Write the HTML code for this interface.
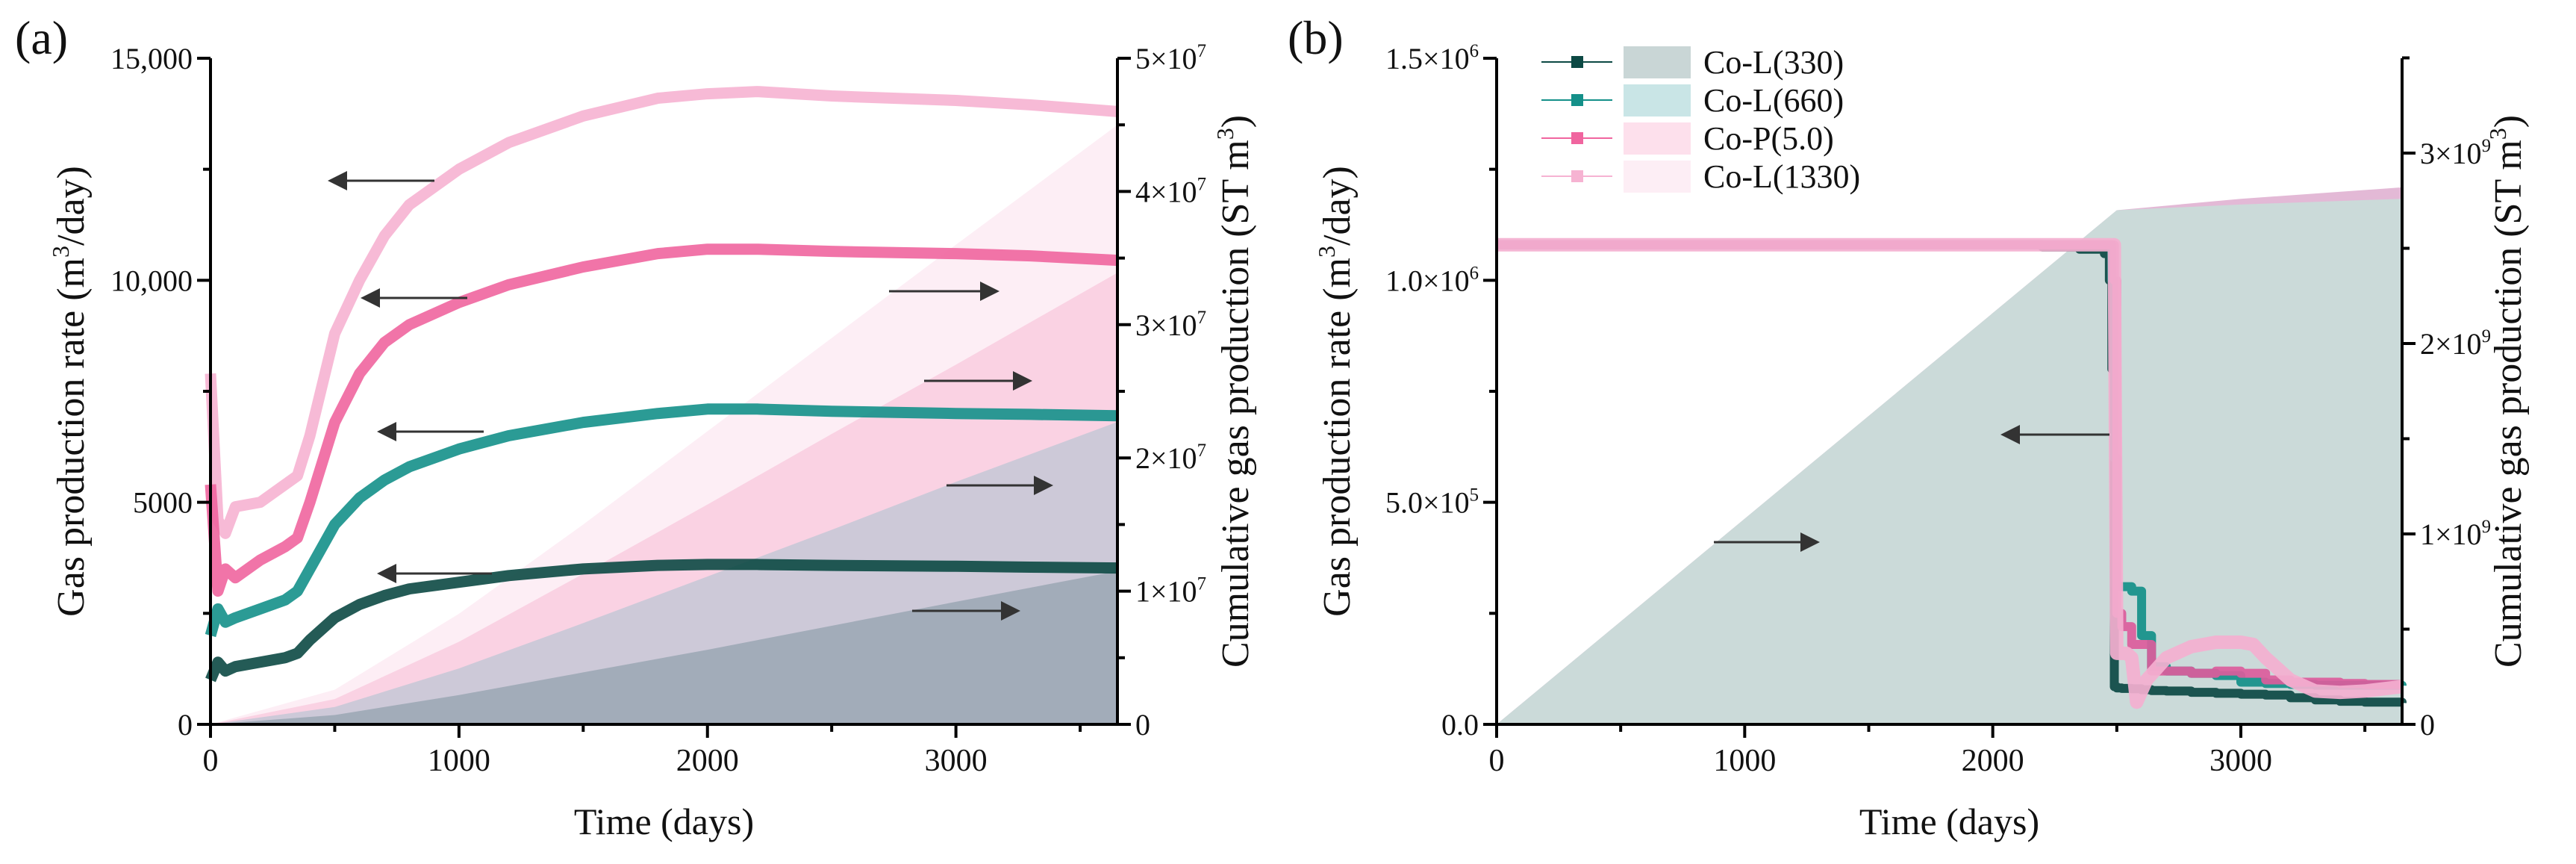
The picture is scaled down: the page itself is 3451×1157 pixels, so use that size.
<!DOCTYPE html>
<html><head><meta charset="utf-8">
<style>
html,body{margin:0;padding:0;background:#fff;}
svg{display:block;}
svg text{font-family:"Liberation Serif","Noto Serif CJK SC","DejaVu Serif",serif;}
</style></head>
<body>
<svg id="fig" width="3451" height="1157" viewBox="0 0 3451 1157" xmlns="http://www.w3.org/2000/svg"></svg>
<script>
// ---------- Panel (a) data ----------
const daysA = [0,30,60,100,200,300,350,400,500,600,700,800,1000,1200,1500,1800,2000,2200,2500,3000,3300,3650];
const rateL1330 = [7900,4600,4300,4900,5000,5400,5600,6500,8800,10000,11000,11700,12500,13100,13700,14100,14200,14250,14150,14050,13950,13800];
const rateP50   = [5400,3000,3500,3300,3700,4000,4200,5000,6800,7900,8600,9000,9500,9900,10300,10600,10700,10700,10650,10600,10550,10450];
const rateL660  = [2000,2600,2300,2400,2600,2800,3000,3500,4500,5100,5500,5800,6200,6500,6800,7000,7100,7100,7050,7000,6980,6950];
const rateL330  = [1000,1400,1200,1300,1400,1500,1600,1900,2400,2700,2900,3050,3200,3350,3500,3580,3600,3600,3580,3560,3540,3520];
const cumDaysA = [0,500,1000,1500,2000,2500,3000,3650];
const cumL1330 = [0,2.6e6,8.3e6,1.5e7,2.2e7,2.9e7,3.6e7,4.5e7];
const cumP50   = [0,1.9e6,6.2e6,1.13e7,1.65e7,2.18e7,2.7e7,3.39e7];
const cumL660  = [0,1.3e6,4.2e6,7.6e6,1.11e7,1.46e7,1.82e7,2.27e7];
const cumL330  = [0,0.7e6,2.2e6,3.9e6,5.6e6,7.4e6,9.2e6,1.15e7];
const leftTicksA = [0,5000,10000,15000];
const leftTickLabelsA = ["0","5000","10,000","15,000"];
const rightTicksA = [0,1e7,2e7,3e7,4e7,5e7];
const rightTickLabelsA = [["0",""],["1×10","7"],["2×10","7"],["3×10","7"],["4×10","7"],["5×10","7"]];
const xTicks = [0,1000,2000,3000];

// ---------- Panel (b) data ----------
const daysB = [0,2200,2350,2450,2470,2480,2490,2500,2520,2560,2600,2640,2700,2800,2900,3000,3100,3200,3300,3400,3500,3650];
const rateBL330  = [1.08e6,1.075e6,1.07e6,1.06e6,1.0e6,8e5,8.5e4,8.2e4,8.1e4,8e4,7.8e4,7.6e4,7.5e4,7.2e4,7e4,6.8e4,6.6e4,6e4,5.5e4,5.2e4,5e4,4.8e4];
const rateBL660  = [1.08e6,1.08e6,1.08e6,1.08e6,1.08e6,1.0e6,6e5,3.1e5,3.1e5,3.0e5,2.0e5,1.3e5,1.2e5,1.15e5,1.1e5,9.5e4,9.2e4,9e4,8.8e4,8.8e4,8.8e4,8.7e4];
const rateBP50   = [1.08e6,1.08e6,1.08e6,1.08e6,1.08e6,1.08e6,1.0e6,2.5e5,2.2e5,1.8e5,1.8e5,1.2e5,1.2e5,1.15e5,1.2e5,1.15e5,1.0e5,9.5e4,9.5e4,9.2e4,9e4,9e4];
const daysB1330 = [0,2490,2495,2500,2540,2560,2580,2620,2700,2800,2900,3000,3050,3100,3200,3300,3400,3500,3650];
const rateBL1330 = [1.08e6,1.08e6,6e5,1.6e5,1.6e5,1.5e5,5e4,1.0e5,1.5e5,1.75e5,1.85e5,1.85e5,1.8e5,1.5e5,1.0e5,7.5e4,7.2e4,7.5e4,8.5e4];
const cumDaysB = [0,2500,3000,3650];
const cumBL330 = [0,2.70e9,2.73e9,2.76e9];
const cumBL1330 = [0,2.70e9,2.76e9,2.82e9];
const leftTicksB = [0,5e5,1e6,1.5e6];
const leftTickLabelsB = [["0.0",""],["5.0×10","5"],["1.0×10","6"],["1.5×10","6"]];
const rightTicksB = [0,1e9,2e9,3e9];
const rightTickLabelsB = [["0",""],["1×10","9"],["2×10","9"],["3×10","9"]];
const legendLabels = ["Co-L(330)","Co-L(660)","Co-P(5.0)","Co-L(1330)"];

const NS = "http://www.w3.org/2000/svg";
const svg = document.getElementById('fig');
function mk(tag, attrs, parent){
  const e = document.createElementNS(NS, tag);
  for (const k in attrs) e.setAttribute(k, attrs[k]);
  (parent||svg).appendChild(e);
  return e;
}
function scale(d0,d1,r0,r1){ return v => r0 + (v-d0)/(d1-d0)*(r1-r0); }

function supText(parent, x, y, base, sup, anchor, size){
  const t = mk('text', {x:x, y:y, 'font-size':size, 'text-anchor':anchor, fill:'#111'}, parent);
  t.appendChild(document.createTextNode(base));
  if (sup){
    const s = mk('tspan', {'font-size':size*0.62, dy:-size*0.4}, t);
    s.textContent = sup;
  }
  return t;
}

function arrow(g, x1, x2, y){
  const dir = x2 > x1 ? 1 : -1;
  const l = mk('line', {x1:x1, y1:y, x2:x2 - dir*20, y2:y, stroke:'#333', 'stroke-width':3}, g);
  
  
  const p = mk('polygon', {points:`${x2},${y} ${x2-dir*26},${y-13} ${x2-dir*26},${y+13}`, fill:'#333'}, g);
  
  
}

function axes(g, L, R, T, B, xs, yl, yr, xmax, lTicks, lLabels, lMinorStep, lMax, rTicks, rLabels, rMinorStep, rMax, lTitleX, rTitleX){
  const ax = mk('g', {}, g);
  
  
  const sw = 4;
  mk('line', {x1:L, y1:T, x2:L, y2:B+2, stroke:'#000', 'stroke-width':sw}, ax);
  mk('line', {x1:R, y1:T, x2:R, y2:B+2, stroke:'#000', 'stroke-width':sw}, ax);
  mk('line', {x1:L-2, y1:B, x2:R+2, y2:B, stroke:'#000', 'stroke-width':sw}, ax);
  for (let d=0; d<=xmax; d+=500){
    const major = d % 1000 === 0;
    mk('line', {x1:xs(d), y1:B, x2:xs(d), y2:B+(major?18:10), stroke:'#000', 'stroke-width':sw}, ax);
  }
  xTicks.forEach(v => {
    const t = mk('text', {x:xs(v), y:B+62, 'font-size':42, 'text-anchor':'middle', fill:'#111'}, ax);
    t.textContent = String(v);
    
    
  });
  for (let v=0; v<=lMax+1e-9; v+=lMinorStep){
    const major = lTicks.some(m => Math.abs(m-v) < lMinorStep*0.01);
    mk('line', {x1:L, y1:yl(v), x2:L-(major?18:10), y2:yl(v), stroke:'#000', 'stroke-width':sw}, ax);
  }
  lTicks.forEach((v,i) => {
    const lab = lLabels[i];
    const t = Array.isArray(lab) ? supText(ax, L-24, yl(v)+14, lab[0], lab[1], 'end', 40)
                                 : supText(ax, L-24, yl(v)+14, lab, '', 'end', 40);
    
    
  });
  for (let v=0; v<=rMax+1e-3; v+=rMinorStep){
    const major = rTicks.some(m => Math.abs(m-v) < rMinorStep*0.01);
    mk('line', {x1:R, y1:yr(v), x2:R+(major?18:10), y2:yr(v), stroke:'#000', 'stroke-width':sw}, ax);
  }
  rTicks.forEach((v,i) => {
    const t = supText(ax, R+24, yr(v)+14, rLabels[i][0], rLabels[i][1], 'start', 40);
    
    
  });
  const xt = mk('text', {x:(L+R)/2, y:1117, 'font-size':50, 'text-anchor':'middle', fill:'#111'}, ax);
  xt.textContent = 'Time (days)';
  
  
  const cy = (T+B)/2;
  const lt = mk('text', {x:0, y:0, 'font-size':52, 'text-anchor':'middle', fill:'#111', transform:`translate(${lTitleX},${cy}) rotate(-90)`}, ax);
  lt.appendChild(document.createTextNode('Gas production rate (m'));
  const s1 = mk('tspan', {'font-size':32, dy:-20}, lt); s1.textContent='3';
  const s2 = mk('tspan', {dy:20}, lt); s2.textContent='/day)';
  
  
  const rt = mk('text', {x:0, y:0, 'font-size':52, 'text-anchor':'middle', fill:'#111', transform:`translate(${rTitleX},${cy}) rotate(-90)`}, ax);
  rt.appendChild(document.createTextNode('Cumulative gas production (ST m'));
  const s3 = mk('tspan', {'font-size':32, dy:-20}, rt); s3.textContent='3';
  const s4 = mk('tspan', {dy:20}, rt); s4.textContent=')';
  
  
}

function areaPath(xs, ys, xv, yv, base){
  let d = `M${xs(xv[0])},${base}`;
  xv.forEach((x,i) => d += ` L${xs(x)},${ys(yv[i])}`);
  d += ` L${xs(xv[xv.length-1])},${base} Z`;
  return d;
}
function linePath(xs, ys, xv, yv, step){
  let d = '';
  xv.forEach((x,i) => {
    if (i===0) d += `M${xs(x)},${ys(yv[i])}`;
    else if (step) d += ` L${xs(x)},${ys(yv[i-1])} L${xs(x)},${ys(yv[i])}`;
    else d += ` L${xs(x)},${ys(yv[i])}`;
  });
  return d;
}

// ================= Panel (a) =================
(function(){
  const L=282, R=1497, T=78, B=970, XMAX=3650;
  const xs = scale(0, XMAX, L, R), yl = scale(0, 15000, B, T), yr = scale(0, 5e7, B, T);
  const g = mk('g', {});
  
  
  const lab = mk('text', {x:20, y:72, 'font-size':64, fill:'#111'}, g);
  lab.textContent = '(a)';
  
  

  const areas = [[cumL1330,'#fdeef5','area-co-l-1330'],[cumP50,'#fad2e3','area-co-p-5'],[cumL660,'#cdc9d8','area-co-l-660'],[cumL330,'#a2acb9','area-co-l-330']];
  areas.forEach(a => {
    const p = mk('path', {d:areaPath(xs, yr, cumDaysA, a[0], B), fill:a[1]}, g);
    
    
  });
  const lines = [[rateL1330,'#f6b3d2','rate-co-l-1330'],[rateP50,'#f0659f','rate-co-p-5'],[rateL660,'#149089','rate-co-l-660'],[rateL330,'#0c4944','rate-co-l-330']];
  lines.forEach(l => {
    const p = mk('path', {d:linePath(xs, yl, daysA, l[0], false), fill:'none', stroke:l[1], 'stroke-width':15, 'stroke-linejoin':'round', opacity:0.9}, g);
    
    
  });
  arrow(g, 582, 439, 242);
  arrow(g, 626, 483, 399);
  arrow(g, 648, 505, 578);
  arrow(g, 659, 505, 768);
  arrow(g, 1191, 1339, 390);
  arrow(g, 1238, 1383, 510);
  arrow(g, 1268, 1411, 650);
  arrow(g, 1222, 1367, 818);
  axes(g, L, R, T, B, xs, yl, yr, XMAX, leftTicksA, leftTickLabelsA, 2500, 15000, rightTicksA, rightTickLabelsA, 5e6, 5e7, 112, 1672);
})();

// ================= Panel (b) =================
(function(){
  const L=2005, R=3218, T=78, B=970, XMAX=3650;
  const xs = scale(0, XMAX, L, R), yl = scale(0, 1.5e6, B, T), yr = scale(0, 3e9, B, 205);
  const g = mk('g', {});
  
  
  const lab = mk('text', {x:1725, y:72, 'font-size':64, fill:'#111'}, g);
  lab.textContent = '(b)';
  
  

  const a1 = mk('path', {d:areaPath(xs, yr, cumDaysB, cumBL1330, B), fill:'#e3b9d6'}, g);
  
  
  const a2 = mk('path', {d:areaPath(xs, yr, cumDaysB, cumBL330, B), fill:'#cbdad9'}, g);
  
  

  const lines = [[daysB,rateBL330,'#0c4944','rate-co-l-330',12,true],[daysB,rateBL660,'#149089','rate-co-l-660',12,true],[daysB,rateBP50,'#dc5c9c','rate-co-p-5',12,true],[daysB1330,rateBL1330,'#f4b0d0','rate-co-l-1330',18,false]];
  lines.forEach(l => {
    const p = mk('path', {d:linePath(xs, yl, l[0], l[1], l[5]), fill:'none', stroke:l[2], 'stroke-width':l[4], 'stroke-linejoin':'round', opacity:0.92}, g);
    
    
  });

  arrow(g, 2826, 2680, 582);
  arrow(g, 2296, 2438, 726);

  const lg = mk('g', {});
  
  
  const lc = ['#0c4944','#149089','#f0659f','#f6b3d2'];
  const fc = ['#c9d6d6','#c9e5e6','#fde0ec','#fdeef5'];
  legendLabels.forEach((name,i) => {
    const cy = 83 + i*51;
    const e = mk('g', {}, lg);
    
    
    mk('line', {x1:2065, y1:cy, x2:2160, y2:cy, stroke:lc[i], 'stroke-width':2}, e);
    mk('rect', {x:2105, y:cy-8, width:16, height:16, fill:lc[i]}, e);
    mk('rect', {x:2175, y:cy-21, width:90, height:43, fill:fc[i]}, e);
    const t = mk('text', {x:2282, y:cy+15, 'font-size':44, fill:'#111'}, e);
    t.textContent = name;
  });
  axes(g, L, R, T, B, xs, yl, yr, XMAX, leftTicksB, leftTickLabelsB, 2.5e5, 1.5e6, rightTicksB, rightTickLabelsB, 5e8, 3.5e9, 1808, 3377);
})();
</script>
</body></html>
